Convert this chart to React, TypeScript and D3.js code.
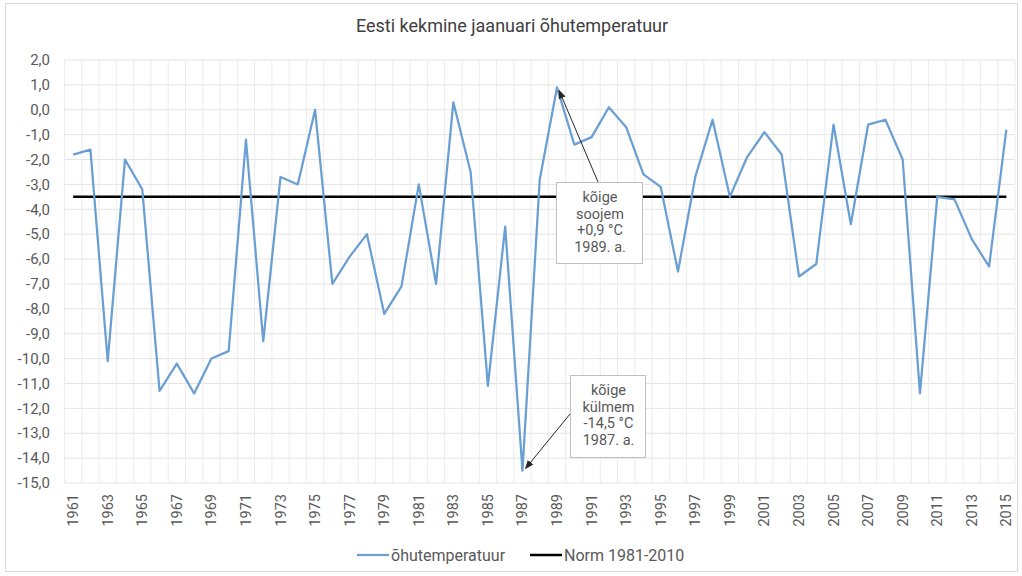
import React, { useEffect, useRef } from 'react';
import * as d3 from 'd3';

const years = [
  1961, 1962, 1963, 1964, 1965, 1966, 1967, 1968, 1969, 1970,
  1971, 1972, 1973, 1974, 1975, 1976, 1977, 1978, 1979, 1980,
  1981, 1982, 1983, 1984, 1985, 1986, 1987, 1988, 1989, 1990,
  1991, 1992, 1993, 1994, 1995, 1996, 1997, 1998, 1999, 2000,
  2001, 2002, 2003, 2004, 2005, 2006, 2007, 2008, 2009, 2010,
  2011, 2012, 2013, 2014, 2015,
];

// January mean air temperature, °C
const temperature = [
  -1.8, -1.6, -10.1, -2.0, -3.2, -11.3, -10.2, -11.4, -10.0, -9.7,
  -1.2, -9.3, -2.7, -3.0, 0.0, -7.0, -5.9, -5.0, -8.2, -7.1,
  -3.0, -7.0, 0.3, -2.5, -11.1, -4.7, -14.5, -2.8, 0.9, -1.4,
  -1.1, 0.1, -0.7, -2.6, -3.1, -6.5, -2.7, -0.4, -3.5, -1.9,
  -0.9, -1.8, -6.7, -6.2, -0.6, -4.6, -0.6, -0.4, -2.0, -11.4,
  -3.5, -3.6, -5.2, -6.3, -0.8,
];

const normValue = -3.5;

const yTicks = [2, 1, 0, -1, -2, -3, -4, -5, -6, -7, -8, -9, -10, -11, -12, -13, -14, -15];

const seriesNames = ['õhutemperatuur', 'Norm 1981-2010'];

const warmNote = ['kõige', 'soojem', '+0,9 °C', '1989. a.'];
const coldNote = ['kõige', 'külmem', '-14,5 °C', '1987. a.'];

export default function App() {
  const svgRef = useRef<SVGSVGElement>(null);

  useEffect(() => {
    const width = 1022;
    const height = 576;
    const plot = { left: 64.5, right: 1015, top: 60, bottom: 483 };
    const font = 'Roboto, "Open Sans", sans-serif';
    const blue = '#6a9fd3';
    const textColor = '#595959';

    const svg = d3.select(svgRef.current);
    svg.selectAll('*').remove();
    svg.attr('width', width).attr('height', height).style('font-family', font);

    svg.append('rect').attr('width', width).attr('height', height).attr('fill', '#fff');
    // chart frame
    svg.append('rect')
      .attr('x', 5.5).attr('y', 3.5)
      .attr('width', 1012).attr('height', 568)
      .attr('fill', 'none').attr('stroke', '#d9d9d9');

    const x = d3.scalePoint<number>()
      .domain(years)
      .range([plot.left, plot.right])
      .padding(0.5);
    const step = x.step();

    const y = d3.scaleLinear().domain([-15, 2]).range([plot.bottom, plot.top]);

    // gridlines
    const grid = svg.append('g');
    grid.selectAll('line.h')
      .data(yTicks)
      .enter()
      .append('line')
      .attr('x1', plot.left).attr('x2', plot.right)
      .attr('y1', d => y(d)).attr('y2', d => y(d))
      .attr('stroke', '#e3e3e3').attr('stroke-width', 1);
    grid.selectAll('line.v')
      .data([...years, 2016])
      .enter()
      .append('line')
      .attr('x1', d => plot.left + (d - years[0]) * step)
      .attr('x2', d => plot.left + (d - years[0]) * step)
      .attr('y1', plot.top).attr('y2', plot.bottom)
      .attr('stroke', '#ececec').attr('stroke-width', 1);

    // title
    svg.append('text')
      .attr('x', 512).attr('y', 32)
      .attr('text-anchor', 'middle')
      .attr('font-size', 18)
      .attr('fill', '#404040')
      .text('Eesti kekmine jaanuari õhutemperatuur');

    // y axis labels
    svg.append('g')
      .selectAll('text')
      .data(yTicks)
      .enter()
      .append('text')
      .attr('x', 50)
      .attr('y', d => y(d))
      .attr('dy', '0.35em')
      .attr('text-anchor', 'end')
      .attr('font-size', 15)
      .attr('fill', textColor)
      .text(d => d3.format('.1f')(d).replace('.', ',').replace('−', '-'));

    // x axis labels, every other year
    svg.append('g')
      .selectAll('text')
      .data(years.filter((_, i) => i % 2 === 0))
      .enter()
      .append('text')
      .attr('transform', d => `translate(${x(d)! + 5},${plot.bottom + 11}) rotate(-90)`)
      .attr('text-anchor', 'end')
      .attr('font-size', 14.5)
      .attr('fill', textColor)
      .text(d => d);

    // norm line
    svg.append('line')
      .attr('x1', x(years[0])!).attr('x2', x(years[years.length - 1])!)
      .attr('y1', y(normValue)).attr('y2', y(normValue))
      .attr('stroke', '#000').attr('stroke-width', 2.5);

    // temperature line
    const line = d3.line<number>()
      .x((_, i) => x(years[i])!)
      .y(d => y(d));
    svg.append('path')
      .datum(temperature)
      .attr('d', line)
      .attr('fill', 'none')
      .attr('stroke', blue)
      .attr('stroke-width', 2.25)
      .attr('stroke-linejoin', 'round');

    // arrow marker
    svg.append('defs').append('marker')
      .attr('id', 'arrow')
      .attr('viewBox', '0 0 10 10')
      .attr('refX', 9).attr('refY', 5)
      .attr('markerWidth', 9).attr('markerHeight', 9)
      .attr('orient', 'auto')
      .append('path')
      .attr('d', 'M0,1 L10,5 L0,9 z')
      .attr('fill', '#262626');

    const notes = [
      { lines: warmNote, box: [556, 182, 86, 81], from: [598, 182], year: 1989, dx: 2, dy: 3 },
      { lines: coldNote, box: [570, 375, 75, 82], from: [570, 414], year: 1987, dx: 3, dy: -2 },
    ];
    notes.forEach(n => {
      const i = years.indexOf(n.year);
      svg.append('line')
        .attr('x1', n.from[0]).attr('y1', n.from[1])
        .attr('x2', x(n.year)! + n.dx).attr('y2', y(temperature[i]) + n.dy)
        .attr('stroke', '#262626').attr('stroke-width', 1)
        .attr('marker-end', 'url(#arrow)');
      svg.append('rect')
        .attr('x', n.box[0] + 0.5).attr('y', n.box[1] + 0.5)
        .attr('width', n.box[2]).attr('height', n.box[3])
        .attr('fill', '#fff').attr('stroke', '#bfbfbf');
      svg.append('g')
        .selectAll('text')
        .data(n.lines)
        .enter()
        .append('text')
        .attr('x', n.box[0] + n.box[2] / 2 + 1)
        .attr('y', (_, k) => n.box[1] + 20 + k * 16.5)
        .attr('text-anchor', 'middle')
        .attr('font-size', 14.5)
        .attr('fill', textColor)
        .text(d => d);
    });

    // legend
    const legend = svg.append('g').attr('transform', 'translate(357,555)');
    const items = [
      { name: seriesNames[0], color: blue, width: 2.25, x: 0 },
      { name: seriesNames[1], color: '#000', width: 2.5, x: 173 },
    ];
    items.forEach(it => {
      legend.append('line')
        .attr('x1', it.x).attr('x2', it.x + 32)
        .attr('y1', 0).attr('y2', 0)
        .attr('stroke', it.color).attr('stroke-width', it.width);
      legend.append('text')
        .attr('x', it.x + 34).attr('y', 0).attr('dy', '0.35em')
        .attr('font-size', 16)
        .attr('fill', textColor)
        .text(it.name);
    });
  }, []);

  return <svg ref={svgRef} style={{ position: 'absolute', left: 0, top: 0 }}></svg>;
}
